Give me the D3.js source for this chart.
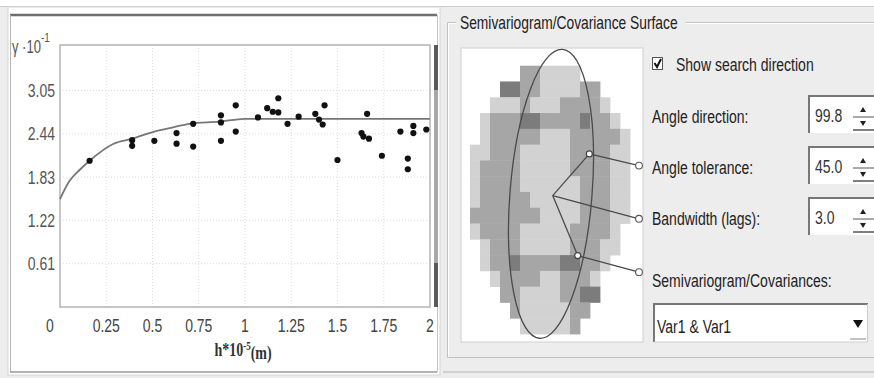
<!DOCTYPE html>
<html>
<head>
<meta charset="utf-8">
<script src="https://cdn.jsdelivr.net/npm/d3@7"></script>
<style>
body{margin:0;background:#fff;}
svg{display:block;font-family:"Liberation Sans",Arial,sans-serif;}
</style>
</head>
<body>
<div id="chart"></div>
<script>
// empirical semivariogram (h*10^-5 m , gamma*10^-1)
var lagH = [0.16,0.39,0.39,0.51,0.63,0.63,0.72,0.72,0.87,0.87,0.87,0.95,0.95,1.07,1.12,1.15,1.18,1.18,1.23,1.29,1.38,1.40,1.42,1.43,1.50,1.66,1.63,1.64,1.67,1.74,1.84,1.88,1.88,1.91,1.91,1.98];
var gammaVals = [2.06,2.27,2.35,2.34,2.45,2.30,2.58,2.26,2.70,2.60,2.34,2.84,2.47,2.67,2.80,2.75,2.94,2.74,2.58,2.68,2.72,2.64,2.57,2.84,2.07,2.72,2.45,2.40,2.37,2.13,2.47,2.09,1.94,2.55,2.45,2.50];
// fitted model
var modelH = [0,0.05,0.11,0.16,0.29,0.39,0.51,0.61,0.70,0.86,1.0,2.0];
var modelGamma = [1.52,1.77,1.94,2.06,2.30,2.37,2.47,2.53,2.58,2.61,2.65,2.65];
var xTicks = [0,0.25,0.5,0.75,1,1.25,1.5,1.75,2];
var xTickLabels = ["0","0.25","0.5","0.75","1","1.25","1.5","1.75","2"];
var yTicks = [0.61,1.22,1.83,2.44,3.05];
var yTickLabels = ["0.61","1.22","1.83","2.44","3.05"];
// surface cells: 0 none, 1 light, 2 medium, 3 dark
var surfaceRows = [
".....221111......",
"...3322111122....",
"..111211122221...",
".12223322223221..",
".122222111222221.",
"1122211111222211.",
"1222211111222211.",
"1222211111122211.",
"1222221111122211.",
"2222222111122211.",
"122221111122221..",
".12221111122211..",
".1223222233221...",
"..12222112221....",
"...2211112233....",
"....21111122.....",
".....111112......"
];
var paramLabels = ["Angle direction:","Angle tolerance:","Bandwidth (lags):"];
var paramValues = ["99.8","45.0","3.0"];
var pairNames = ["Var1 & Var1"];

var W = 874, H = 378;
var svg = d3.select('#chart').append('svg').attr('width',W).attr('height',H);

function txt(g,x,y,s,size,anchor,fill){
  return g.append('text')
    .attr('transform','translate('+x+','+y+') scale(1,1.35)')
    .attr('dy','0.35em')
    .attr('text-anchor',anchor||'start')
    .attr('font-size',size)
    .attr('fill',fill||'#222')
    .text(s);
}

// background
svg.append('rect').attr('width',W).attr('height',H).attr('fill','#fff');
svg.append('rect').attr('x',0).attr('y',7).attr('width',W).attr('height',H-7).attr('fill','#ededed');
svg.append('line').attr('x1',0).attr('x2',W).attr('y1',6.5).attr('y2',6.5).attr('stroke','#cfcfcf');

// ---------- left panel ----------
var left = svg.append('g');
left.append('rect').attr('x',8).attr('y',7).attr('width',432).attr('height',368).attr('fill','#fff').attr('stroke','#d6d6d6');
left.append('line').attr('x1',10).attr('x2',437).attr('y1',15).attr('y2',15).attr('stroke','#6e6e6e').attr('stroke-width',2.5);
left.append('line').attr('x1',10.5).attr('x2',10.5).attr('y1',15).attr('y2',372).attr('stroke','#b5b5b5');
left.append('line').attr('x1',437.5).attr('x2',437.5).attr('y1',15).attr('y2',372).attr('stroke','#c4c4c4');
left.append('line').attr('x1',10).attr('x2',437).attr('y1',372).attr('y2',372).attr('stroke','#9a9a9a').attr('stroke-width',1.5);

var x = d3.scaleLinear().domain([0,2]).range([60,430]);
var y = d3.scaleLinear().domain([0,3.69]).range([307,45]);

// grid
left.selectAll('.vg').data(xTicks.slice(1,-1)).enter().append('line')
  .attr('x1',function(d){return x(d);}).attr('x2',function(d){return x(d);})
  .attr('y1',y(3.69)).attr('y2',y(0))
  .attr('stroke','#dcdcdc').attr('stroke-dasharray','1,2');
left.selectAll('.hg').data(yTicks).enter().append('line')
  .attr('x1',x(0)).attr('x2',x(2))
  .attr('y1',function(d){return y(d);}).attr('y2',function(d){return y(d);})
  .attr('stroke','#dcdcdc').attr('stroke-dasharray','1,2');

left.append('rect').attr('x',x(0)).attr('y',y(3.69)).attr('width',x(2)-x(0)).attr('height',y(0)-y(3.69))
  .attr('fill','none').attr('stroke','#b4b4b4').attr('stroke-width',1.5);

// scrollbar strip
left.append('rect').attr('x',434).attr('y',45).attr('width',4).attr('height',262).attr('fill','#a8a8a8');
left.append('rect').attr('x',434).attr('y',45).attr('width',4).attr('height',45).attr('fill','#5a5a5a');
left.append('rect').attr('x',434).attr('y',263).attr('width',4).attr('height',44).attr('fill','#5a5a5a');

// model
var line = d3.line().x(function(d){return x(d[0]);}).y(function(d){return y(d[1]);}).curve(d3.curveMonotoneX);
left.append('path').datum(d3.zip(modelH,modelGamma)).attr('d',line)
  .attr('fill','none').attr('stroke','#777').attr('stroke-width',1.8);

// points
left.selectAll('.pt').data(d3.zip(lagH,gammaVals)).enter().append('circle')
  .attr('cx',function(d){return x(d[0]);}).attr('cy',function(d){return y(d[1]);})
  .attr('r',3.1).attr('fill','#111');

// tick labels
yTicks.forEach(function(d,i){ txt(left,55,y(d),yTickLabels[i],14,'end','#555'); });
xTicks.forEach(function(d,i){ txt(left,x(d)-(i==0?10:0),325,xTickLabels[i],14,'middle','#444'); });

// axis titles
var yt = txt(left,12,47,'γ ·10',13,'start','#555');
yt.append('tspan').attr('dy','-0.8em').attr('font-size',10).text('-1');
var xt = txt(left,243,349,'h*10',14,'middle','#333').attr('font-family','"Liberation Serif",serif').attr('font-weight','bold');
xt.append('tspan').attr('dy','-0.5em').attr('font-size',9).text('-5');
xt.append('tspan').attr('dy','0.5em').text('(m)');

// ---------- right panel ----------
var right = svg.append('g');
right.append('path').attr('d','M874,22.5H447.5V357.5H874').attr('fill','none').attr('stroke','#c2c2c2');
right.append('path').attr('d','M874,23.5H448.5V356.5').attr('fill','none').attr('stroke','#fff');
right.append('rect').attr('x',456).attr('y',14).attr('width',230).attr('height',16).attr('fill','#ededed');
txt(right,460,22,'Semivariogram/Covariance Surface',13.8,'start','#222');
right.append('line').attr('x1',443).attr('x2',W).attr('y1',372).attr('y2',372).attr('stroke','#c8c8c8').attr('stroke-width',1.5);

// surface image
var sx = d3.scaleLinear().domain([0,17]).range([470,640]);
var sy = d3.scaleLinear().domain([0,17]).range([65.7,334]);
var shade = ['none','#d2d2d2','#a6a6a6','#7c7c7c'];
right.append('rect').attr('x',461).attr('y',48).attr('width',182).attr('height',294)
  .attr('fill','#fff').attr('stroke','#d0d0d0');
var cells = [];
surfaceRows.forEach(function(row,r){
  row.split('').forEach(function(ch,c){ if(ch!='.') cells.push({r:r,c:c,v:+ch}); });
});
right.selectAll('.cell').data(cells).enter().append('rect')
  .attr('x',function(d){return sx(d.c);}).attr('y',function(d){return sy(d.r);})
  .attr('width',sx(1)-sx(0)+0.4).attr('height',sy(1)-sy(0)+0.4)
  .attr('fill',function(d){return shade[d.v];});

// search ellipse
var ec = [8.1,8.12];
right.append('ellipse').attr('cx',sx(ec[0])).attr('cy',sy(ec[1]))
  .attr('rx',sx(4.1)-sx(0)).attr('ry',sy(9.18)-sy(0))
  .attr('transform','rotate(4.6,'+sx(ec[0])+','+sy(ec[1])+')')
  .attr('fill','none').attr('stroke','#4a4a4a').attr('stroke-width',1.3);

var sc = [8.27,8.23], up = [11.93,5.59], lo = [10.77,12.03];
var callY = [6.33,9.70,13.08], callX = 16.9;
var segs = [[sc,up],[sc,lo],[up,[callX,callY[0]]],[sc,[callX,callY[1]]],[lo,[callX,callY[2]]]];
right.selectAll('.seg').data(segs).enter().append('line')
  .attr('x1',function(d){return sx(d[0][0]);}).attr('y1',function(d){return sy(d[0][1]);})
  .attr('x2',function(d){return sx(d[1][0]);}).attr('y2',function(d){return sy(d[1][1]);})
  .attr('stroke','#4a4a4a').attr('stroke-width',1.3);
right.selectAll('.knot').data([up,lo]).enter().append('circle')
  .attr('cx',function(d){return sx(d[0]);}).attr('cy',function(d){return sy(d[1]);})
  .attr('r',3).attr('fill','#fff').attr('stroke','#444').attr('stroke-width',1.2);
right.selectAll('.call').data(callY).enter().append('circle')
  .attr('cx',sx(callX)).attr('cy',function(d){return sy(d);})
  .attr('r',3.4).attr('fill','#fff').attr('stroke','#555').attr('stroke-width',1.1);

// checkbox
right.append('rect').attr('x',652.5).attr('y',57.5).attr('width',10).attr('height',12).attr('fill','#fff').attr('stroke','#555');
right.append('path').attr('d','M654.5,63 L657,67 L661,59').attr('fill','none').attr('stroke','#111').attr('stroke-width',2);
txt(right,676,64,'Show search direction',14,'start','#222');

// parameter spinners
var py = d3.scalePoint().domain(paramLabels).range([115,217]);
paramLabels.forEach(function(lab,i){
  var cy = py(lab);
  txt(right,652,cy+1,lab,14,'start','#222');
  var b = right.append('g');
  b.append('rect').attr('x',808).attr('y',cy-20).attr('width',70).attr('height',38).attr('fill','#fff');
  b.append('path').attr('d','M809,'+(cy+18)+'V'+(cy-19)+'H874').attr('fill','none').attr('stroke','#777').attr('stroke-width',2);
  txt(b,815,cy,paramValues[i],14,'start','#333');
  b.append('line').attr('x1',853).attr('x2',874).attr('y1',cy+2).attr('y2',cy+2).attr('stroke','#555');
  b.append('line').attr('x1',853).attr('x2',874).attr('y1',cy+15).attr('y2',cy+15).attr('stroke','#555').attr('stroke-width',1.5);
  b.append('path').attr('d','M860,'+(cy-3)+'L863,'+(cy-8)+'L866,'+(cy-3)+'Z').attr('fill','#222');
  b.append('path').attr('d','M860,'+(cy+6)+'L863,'+(cy+11)+'L866,'+(cy+6)+'Z').attr('fill','#222');
});

txt(right,652,280,'Semivariogram/Covariances:',14,'start','#222');

// dropdown
var dd = right.append('g');
dd.append('rect').attr('x',653).attr('y',303).attr('width',215).attr('height',39).attr('fill','#fff');
dd.append('path').attr('d','M654,342V304H868').attr('fill','none').attr('stroke','#777').attr('stroke-width',2);
dd.append('path').attr('d','M867.5,304V342H654').attr('fill','none').attr('stroke','#cfcfcf');
txt(dd,657,326,pairNames[0],14,'start','#222');
dd.append('path').attr('d','M853,320L858,328L863,320Z').attr('fill','#111');
dd.append('line').attr('x1',850).attr('x2',866).attr('y1',339).attr('y2',339).attr('stroke','#888');
</script>
</body>
</html>
